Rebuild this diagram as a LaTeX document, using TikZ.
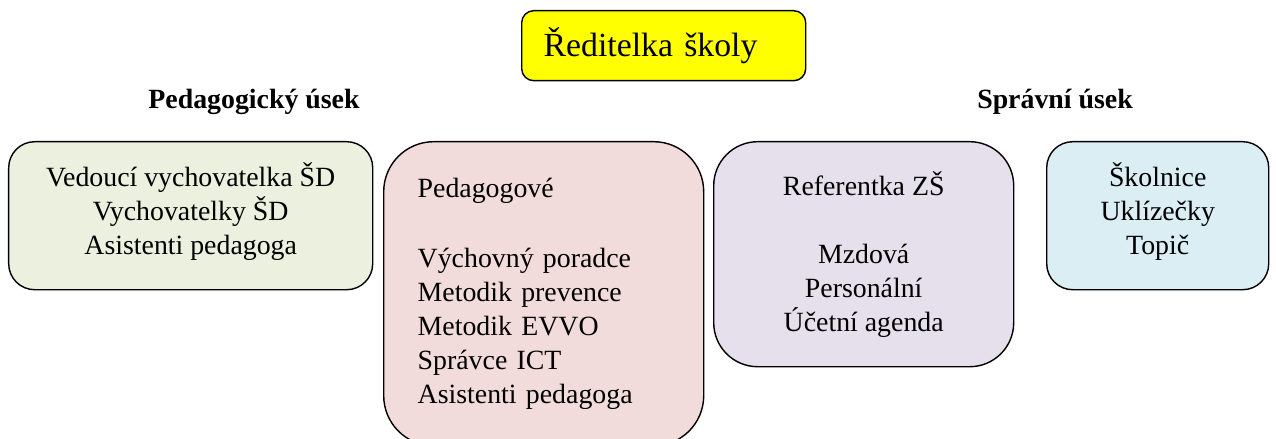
\documentclass[tikz,border=0pt]{standalone}
\usepackage{fontspec}
\setmainfont{Liberation Serif}
\usepackage{xcolor}
\usetikzlibrary{calc}
\definecolor{zluta}{HTML}{FFFF00}
\definecolor{zelena}{HTML}{EBF1DE}
\definecolor{ruzova}{HTML}{F2DCDB}
\definecolor{fialova}{HTML}{E5E0EC}
\definecolor{modra}{HTML}{DBEEF3}

\begin{document}
\begin{tikzpicture}[
			usekbox/.style={draw=black, line width=1pt, rounded corners=#1, anchor=north west, inner sep=0pt, font=\fontsize{19.8}{24.2}\selectfont},
			nadpis/.style={font=\fontsize{19.8}{24.2}\selectfont\bfseries}
		]
			\useasboundingbox (0,0) rectangle (31.9,-10.975);
			\clip (0,0) rectangle (31.9,-10.975);
			\node(reditelka)[usekbox=0.3cm, fill=zluta, minimum width=7.1cm, minimum height=1.75cm, text width=6.0cm, align=left, font=\fontsize{24}{29}\selectfont] at (13.025,-0.25) {Ředitelka školy};
			\node(pedusek)[nadpis] at (6.35,-2.55) {Pedagogický úsek};
			\node(sprusek)[nadpis] at (26.375,-2.55) {Správní úsek};
			\node(druzina)[usekbox=0.65cm, fill=zelena, minimum width=9.1cm, minimum height=3.7cm, text depth=0.35cm, align=center] at (0.2,-3.525)
			{
				Vedoucí vychovatelka ŠD\\
				Vychovatelky ŠD\\
				Asistenti pedagoga
			};
			\node(pedagogove)[usekbox=1.25cm, fill=ruzova, minimum width=8.0cm, minimum height=7.6cm, text width=6.3cm, align=left] at (9.575,-3.525)
			{
				Pedagogové\\[26pt]
				Výchovný poradce\\
				Metodik prevence\\
				Metodik EVVO\\
				Správce ICT\\
				Asistenti pedagoga
			};
			\node(referentka)[usekbox=1.1cm, fill=fialova, minimum width=7.5cm, minimum height=5.625cm, align=center] at (17.825,-3.525)
			{
				Referentka ZŠ\\[24.2pt]
				Mzdová\\
				Personální\\
				Účetní agenda
			};
			\node(provoz)[usekbox=0.65cm, fill=modra, minimum width=5.55cm, minimum height=3.7cm, text depth=0.35cm, align=center] at (26.15,-3.525)
			{
				Školnice\\
				Uklízečky\\
				Topič
			};
		\end{tikzpicture}
\end{document}
